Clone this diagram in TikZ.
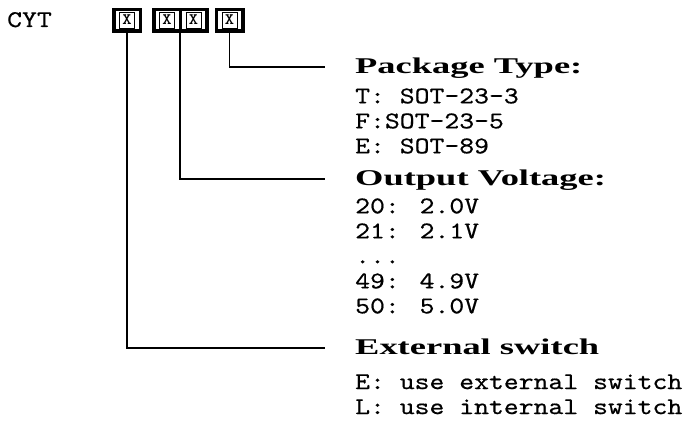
\documentclass[tikz,border=0pt]{standalone}
\usepackage{fontspec}
\setmainfont{Liberation Serif}
\newfontfamily\headfont[FakeStretch=1.62]{Liberation Serif}
\newfontfamily\itemfont[FakeStretch=1.18,FakeBold=0.5]{lmmono10-regular.otf}
\newfontfamily\boxfont[FakeStretch=1.1]{lmmonolt10-bold.otf}
\usetikzlibrary{positioning}
\newcommand{\digitx}{{\setlength\fboxsep{0pt}\setlength\fboxrule{0.7pt}%
  \framebox[16pt]{\rule[-3.5pt]{0pt}{15pt}\boxfont\fontsize{16}{16}\selectfont X}}}

\begin{document}
\begin{tikzpicture}[
  x=1pt, y=1pt,
  digit/.style = {
    draw, line width=3.5pt, outer sep=0pt, inner sep=0pt,
    minimum width=26.5pt, minimum height=21.5pt
  },
  head/.style = {
    anchor=west, inner sep=0pt, text height=12pt, text depth=0pt,
    font=\headfont\bfseries\fontsize{22.5}{24}\selectfont
  },
  items/.style = {
    align=left, inner sep=0pt,
    font=\itemfont\fontsize{24}{25}\selectfont
  },
  lead/.style = {line width=1.6pt, shorten >=30pt}
]
  \useasboundingbox (0,0) rectangle (684,-428);

  \node[anchor=base west, inner sep=0pt, font=\itemfont\fontsize{24}{25}\selectfont]
                                     (cyt)  at (7,-27) {CYT};
  \node[digit]                       (d1)   at (127,-20.5) {\digitx};
  \node[digit, right=13.5pt of d1]   (d2)   {\digitx};
  \node[digit, right=0pt of d2]      (d3)   {\digitx};
  \node[digit, right=9.5pt of d3]    (d4)   {\digitx};

  \node[head] (pkg)  at (355,-67)  {Package Type:};
  \node[items, below right=15pt and 0pt of pkg.south west] (pkglist)
    {T: SOT-23-3\\F:SOT-23-5\\E: SOT-89};

  \node[head] (volt) at (355,-179) {Output Voltage:};
  \node[items, below right=13pt and 0pt of volt.south west] (voltlist)
    {20: 2.0V\\21: 2.1V\\...\\49: 4.9V\\50: 5.0V};

  \node[head] (ext)  at (355,-348) {External switch};
  \node[items, below right=20pt and 0pt of ext.south west] (extlist)
    {E: use external switch\\L: use internal switch};

  \draw[lead] (d4.south)      |- (pkg.west);
  \draw[lead] (d2.south east) |- (volt.west);
  \draw[lead] (d1.south)      |- (ext.west);
\end{tikzpicture}
\end{document}
